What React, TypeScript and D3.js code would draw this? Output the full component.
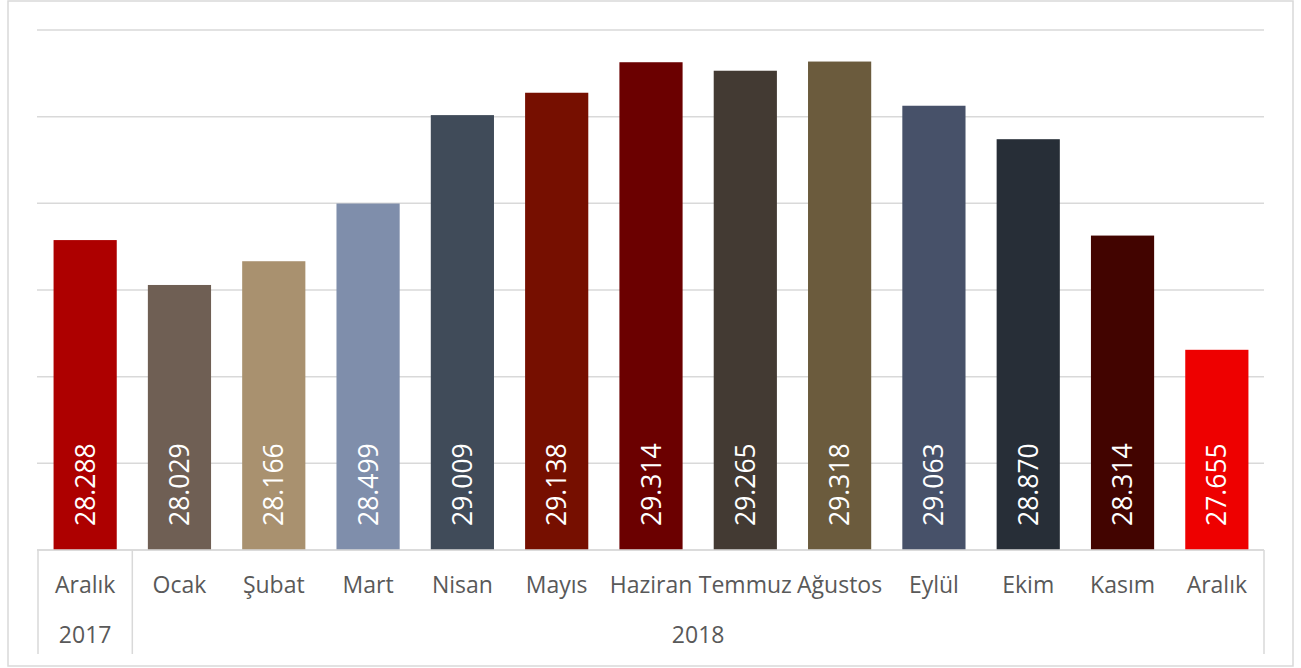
import * as d3 from "d3";

const months = ["Aralık", "Ocak", "Şubat", "Mart", "Nisan", "Mayıs", "Haziran", "Temmuz", "Ağustos", "Eylül", "Ekim", "Kasım", "Aralık"];
const values = [28.288, 28.029, 28.166, 28.499, 29.009, 29.138, 29.314, 29.265, 29.318, 29.063, 28.87, 28.314, 27.655];
const barColors = ["#ad0000", "#6f5f54", "#a9916f", "#7f8eab", "#404b59", "#760f00", "#6b0000", "#433a33", "#6b5b3d", "#475169", "#272e37", "#420400", "#ee0000"];
const yearGroups = [
  { label: "2017", first: 0, last: 0 },
  { label: "2018", first: 1, last: 12 },
];
const yTicks = [26.5, 27, 27.5, 28, 28.5, 29, 29.5];

const W = 1301;
const H = 668;
const plot = { left: 38, right: 1264, top: 30, bottom: 550 };
const gridColor = "#d9d9d9";
const font = "'Open Sans', sans-serif";

export default function App() {
  const keys = months.map((_, i) => String(i));
  const x = d3.scaleBand<string>().domain(keys).range([plot.left, plot.right]).paddingInner(0.33).paddingOuter(0.165);
  const band = d3.scaleBand<string>().domain(keys).range([plot.left, plot.right]);
  const y = d3.scaleLinear().domain([26.5, 29.5]).range([plot.bottom, plot.top]);
  const fmt = d3.format(".3f");

  // separators between year groups on the category axis
  const separators = [plot.left, ...yearGroups.map((g) => (band(String(g.last)) ?? 0) + band.bandwidth())];

  return (
    <svg width={W} height={H} style={{ position: "absolute", left: 0, top: 0, background: "#fff" }}>
      <rect x={8} y={1} width={1285} height={665} fill="#fff" stroke={gridColor} strokeWidth={1.5} />

      {yTicks.map((t) => (
        <line key={t} x1={plot.left - 1} x2={plot.right} y1={y(t)} y2={y(t)} stroke={gridColor} strokeWidth={1.5} />
      ))}

      {values.map((v, i) => (
        <rect key={i} x={x(String(i))} y={y(v)} width={x.bandwidth()} height={y(26.5) - y(v)} fill={barColors[i]} />
      ))}

      {values.map((v, i) => {
        const cx = (x(String(i)) ?? 0) + x.bandwidth() / 2;
        return (
          <text
            key={i}
            transform={`translate(${cx},${plot.bottom - 24}) rotate(-90)`}
            dy="0.36em"
            fill="#fff"
            fontFamily={font}
            fontSize={26.5}
          >
            {fmt(v)}
          </text>
        );
      })}

      <line x1={plot.left - 1} x2={plot.right} y1={plot.bottom} y2={plot.bottom} stroke={gridColor} strokeWidth={1.5} />
      {separators.map((sx, i) => (
        <line key={i} x1={sx} x2={sx} y1={plot.bottom} y2={654} stroke={gridColor} strokeWidth={1.5} />
      ))}

      {months.map((m, i) => (
        <text
          key={i}
          x={(band(String(i)) ?? 0) + band.bandwidth() / 2}
          y={593}
          textAnchor="middle"
          fill="#595959"
          fontFamily={font}
          fontSize={23}
        >
          {m}
        </text>
      ))}

      {yearGroups.map((g) => {
        const x0 = band(String(g.first)) ?? 0;
        const x1 = (band(String(g.last)) ?? 0) + band.bandwidth();
        return (
          <text key={g.label} x={(x0 + x1) / 2} y={643} textAnchor="middle" fill="#595959" fontFamily={font} fontSize={23}>
            {g.label}
          </text>
        );
      })}
    </svg>
  );
}
